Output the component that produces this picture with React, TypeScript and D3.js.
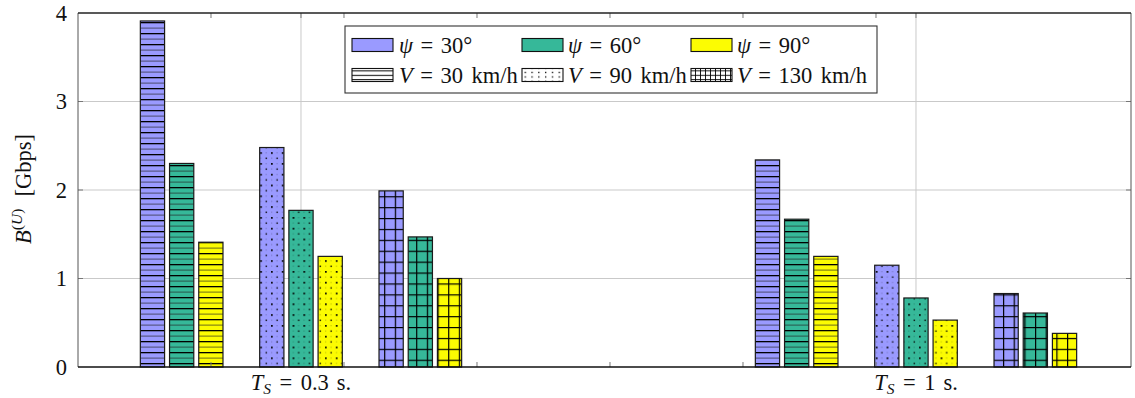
import React from 'react';
import * as d3 from 'd3';

// Sampling periods (categories), vehicle speeds and beam angles
const periods = ['0.3', '1'];
const speeds = ['30', '90', '130'];
const angles = ['30', '60', '90'];

// Throughput B^(U) in Gbps, ordered period-major then speed
const psi30 = [3.91, 2.48, 1.99, 2.34, 1.15, 0.83];
const psi60 = [2.30, 1.77, 1.47, 1.67, 0.78, 0.61];
const psi90 = [1.41, 1.25, 1.00, 1.25, 0.53, 0.38];
const seriesByAngle = [psi30, psi60, psi90];

const yTicks = [0, 1, 2, 3, 4];
const angleColors = ['#9a9aff', '#36b899', '#fcfc02'];
const speedPatterns = ['hlines', 'dots', 'grid'];

const W = 1135;
const H = 398;
const left = 78;
const right = 1131;
const top = 13;
const bottom = 367;
const FONT = '"Liberation Serif", "Times New Roman", serif';
const FS = 22.5;
const SUB = 15.5;

const y = d3.scaleLinear().domain([0, 4]).range([bottom, top]);
const x = d3.scaleLinear().domain([-0.3626, 1.3496]).range([left, right]);
const periodPos = d3.scalePoint<string>().domain(periods).range([0, 1]);
const speedBand = d3.scaleBand<string>().domain(speeds).range([-179, 179]);
const angleBand = d3.scaleBand<string>()
  .domain(angles)
  .range([-43.8, 43.8])
  .paddingInner(0.17)
  .paddingOuter(0.085);

// unlabeled ticks along the top/bottom frame
const minorStep = 0.21626;
const minorTicks = d3.range(1, 7).map((k) => x.domain()[0] + k * minorStep);

type Bar = { key: string; x: number; w: number; y0: number; y1: number; color: string; pat: string };

const bars: Bar[] = [];
periods.forEach((p, pi) => {
  speeds.forEach((s, si) => {
    angles.forEach((a, ai) => {
      const v = seriesByAngle[ai][pi * speeds.length + si];
      const cx = x(periodPos(p)!) + speedBand(s)! + speedBand.bandwidth() / 2;
      bars.push({
        key: `${p}-${s}-${a}`,
        x: cx + angleBand(a)!,
        w: angleBand.bandwidth(),
        y0: y(0),
        y1: y(v),
        color: angleColors[ai],
        pat: speedPatterns[si],
      });
    });
  });
});

function Patterns() {
  return (
    <defs>
      <pattern id="bar-hlines" patternUnits="userSpaceOnUse" width="10" height="11">
        <line x1="0" x2="10" y1="0.6" y2="0.6" stroke="#000" strokeWidth="1.4" />
        <line x1="0" x2="10" y1="6.1" y2="6.1" stroke="#222" strokeOpacity="0.75" strokeWidth="0.9" />
      </pattern>
      <pattern id="bar-dots" patternUnits="userSpaceOnUse" width="10.8" height="10.8">
        <rect x="1" y="1" width="1.7" height="1.7" fill="#000" />
        <rect x="6.4" y="6.4" width="1.5" height="1.5" fill="#000" fillOpacity="0.85" />
        <rect x="6.5" y="1.2" width="1" height="1" fill="#000" fillOpacity="0.3" />
        <rect x="1.2" y="6.5" width="1" height="1" fill="#000" fillOpacity="0.3" />
      </pattern>
      <pattern id="bar-grid" patternUnits="userSpaceOnUse" width="10.67" height="10.9">
        <line x1="0.6" x2="0.6" y1="0" y2="10.9" stroke="#000" strokeWidth="1.2" />
        <line x1="0" x2="10.67" y1="0.6" y2="0.6" stroke="#000" strokeWidth="1.2" />
      </pattern>
      <pattern id="leg-hlines" patternUnits="userSpaceOnUse" width="10" height="4.4">
        <line x1="0" x2="10" y1="0.5" y2="0.5" stroke="#000" strokeWidth="1" />
      </pattern>
      <pattern id="leg-dots" patternUnits="userSpaceOnUse" width="6.8" height="4.4">
        <rect x="1" y="1.5" width="1.3" height="1.3" fill="#000" />
      </pattern>
      <pattern id="leg-grid" patternUnits="userSpaceOnUse" width="5" height="4.4">
        <line x1="0.5" x2="0.5" y1="0" y2="4.4" stroke="#000" strokeWidth="0.9" />
        <line x1="0" x2="5" y1="0.5" y2="0.5" stroke="#000" strokeWidth="0.9" />
      </pattern>
    </defs>
  );
}

function Legend() {
  const bx = 345;
  const by = 26;
  const bw = 532;
  const bh = 67;
  const colX = [352, 522, 691];
  const textX = [399, 568, 737];
  const rowY = [45, 75];
  const sw = 41;
  const sh = 13;
  return (
    <g>
      <rect x={bx} y={by} width={bw} height={bh} fill="#fff" stroke="#333" strokeWidth="1.1" />
      {angles.map((a, i) => (
        <g key={`a-${a}`}>
          <rect x={colX[i]} y={rowY[0] - sh / 2} width={sw} height={sh} fill={angleColors[i]} stroke="#111" strokeWidth="1.1" />
          <text x={textX[i]} y={rowY[0] + 7.5} fontFamily={FONT} fontSize={FS} fill="#111">
            <tspan fontStyle="italic">ψ</tspan>
            <tspan dx="7.5">=</tspan>
            <tspan dx="7.5">{a}°</tspan>
          </text>
        </g>
      ))}
      {speeds.map((s, i) => (
        <g key={`s-${s}`}>
          <rect x={colX[i]} y={rowY[1] - sh / 2} width={sw} height={sh} fill="#fff" />
          <rect x={colX[i]} y={rowY[1] - sh / 2} width={sw} height={sh} fill={`url(#leg-${speedPatterns[i]})`} />
          <rect x={colX[i]} y={rowY[1] - sh / 2} width={sw} height={sh} fill="none" stroke="#111" strokeWidth="1.1" />
          <text x={textX[i]} y={rowY[1] + 7.5} fontFamily={FONT} fontSize={FS} fill="#111">
            <tspan fontStyle="italic">V</tspan>
            <tspan dx="7.5">=</tspan>
            <tspan dx="7.5">{s}</tspan>
            <tspan dx="8.5">km/h</tspan>
          </text>
        </g>
      ))}
    </g>
  );
}

export default function App() {
  return (
    <svg
      width={W}
      height={H}
      viewBox={`0 0 ${W} ${H}`}
      style={{ position: 'absolute', left: 0, top: 0, background: '#fff' }}
    >
      <Patterns />
      <rect x={0} y={0} width={W} height={H} fill="#fff" />

      {/* grid */}
      {yTicks.slice(1, -1).map((t) => (
        <line key={`gy-${t}`} x1={left} x2={right} y1={y(t)} y2={y(t)} stroke="#c9c9c9" strokeWidth="1" />
      ))}
      {periods.map((p) => (
        <line key={`gx-${p}`} x1={x(periodPos(p)!)} x2={x(periodPos(p)!)} y1={top} y2={bottom} stroke="#c9c9c9" strokeWidth="1" />
      ))}

      {/* bars */}
      {bars.map((b) => (
        <g key={b.key}>
          <rect x={b.x} y={b.y1} width={b.w} height={b.y0 - b.y1} fill={b.color} />
          <rect x={b.x} y={b.y1} width={b.w} height={b.y0 - b.y1} fill={`url(#bar-${b.pat})`} />
          <rect x={b.x} y={b.y1} width={b.w} height={b.y0 - b.y1} fill="none" stroke="#1a1a1a" strokeWidth="1.2" />
        </g>
      ))}

      {/* ticks */}
      {minorTicks.map((t, i) => (
        <g key={`mt-${i}`}>
          <line x1={x(t)} x2={x(t)} y1={top} y2={top + 5} stroke="#777" strokeWidth="1" />
          <line x1={x(t)} x2={x(t)} y1={bottom} y2={bottom - 5} stroke="#777" strokeWidth="1" />
        </g>
      ))}
      {periods.map((p) => (
        <g key={`pt-${p}`}>
          <line x1={x(periodPos(p)!)} x2={x(periodPos(p)!)} y1={top} y2={top + 5} stroke="#777" strokeWidth="1" />
        </g>
      ))}
      {yTicks.slice(1, -1).map((t) => (
        <g key={`yt-${t}`}>
          <line x1={left} x2={left + 5} y1={y(t)} y2={y(t)} stroke="#777" strokeWidth="1" />
          <line x1={right} x2={right - 5} y1={y(t)} y2={y(t)} stroke="#777" strokeWidth="1" />
        </g>
      ))}

      {/* frame */}
      <line x1={left} x2={left} y1={top} y2={bottom} stroke="#555" strokeWidth="1" />
      <line x1={right} x2={right} y1={top} y2={bottom} stroke="#555" strokeWidth="1" />
      <line x1={left} x2={right} y1={top} y2={top} stroke="#222" strokeWidth="1.3" />
      <line x1={left} x2={right} y1={bottom} y2={bottom} stroke="#111" strokeWidth="1.7" />

      {/* y tick labels */}
      {yTicks.map((t) => (
        <text key={`yl-${t}`} x={left - 11} y={y(t) + 7.5} textAnchor="end" fontFamily={FONT} fontSize={FS} fill="#111">
          {t}
        </text>
      ))}

      {/* y axis title */}
      <text transform={`translate(31, 189) rotate(-90)`} textAnchor="middle" fontFamily={FONT} fontSize={FS} fill="#111">
        <tspan fontStyle="italic">B</tspan>
        <tspan fontSize={SUB} dy="-9">(</tspan>
        <tspan fontSize={SUB} fontStyle="italic">U</tspan>
        <tspan fontSize={SUB}>)</tspan>
        <tspan dx="12" dy="9">[Gbps]</tspan>
      </text>

      {/* category labels */}
      {periods.map((p) => (
        <text key={`pl-${p}`} x={x(periodPos(p)!)} y={390} textAnchor="middle" fontFamily={FONT} fontSize={FS} fill="#111">
          <tspan fontStyle="italic">T</tspan>
          <tspan fontSize={SUB} fontStyle="italic" dy="3.5">S</tspan>
          <tspan dx="8.5" dy="-3.5">=</tspan>
          <tspan dx="8.5">{p}</tspan>
          <tspan dx="8">s.</tspan>
        </text>
      ))}

      <Legend />
    </svg>
  );
}
